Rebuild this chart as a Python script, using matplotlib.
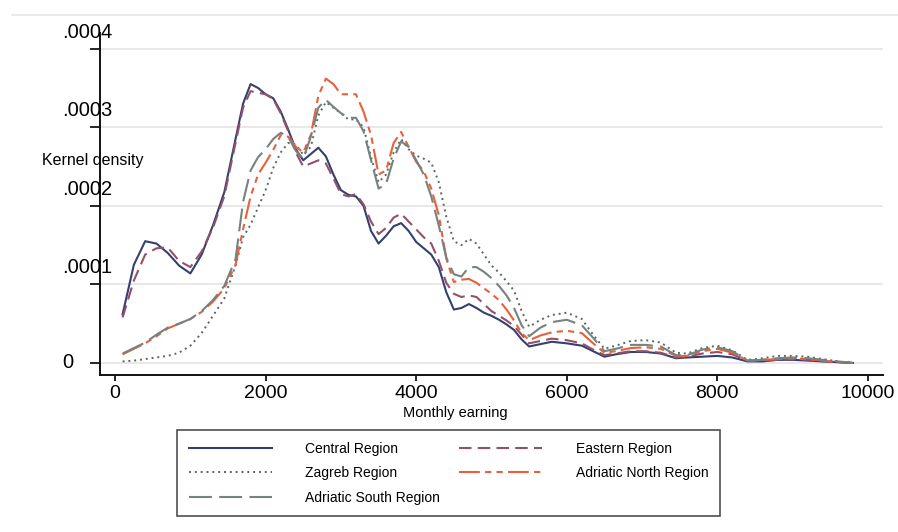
import numpy as np
import matplotlib
matplotlib.use('Agg')
import matplotlib.pyplot as plt
import matplotlib.transforms as mtransforms
from matplotlib.lines import Line2D

plt.rcParams['font.family'] = ['Liberation Sans', 'DejaVu Sans']

# --- data (density in units of 1e-4) ---
earning = [100, 250, 400, 550, 700, 850, 1000, 1150, 1300, 1450, 1600, 1700, 1800, 1900,
           2000, 2100, 2200, 2300, 2400, 2500, 2600, 2700, 2800, 2900, 3000, 3100, 3200,
           3300, 3400, 3500, 3600, 3700, 3800, 3900, 4000, 4100, 4200, 4300, 4400, 4500,
           4600, 4700, 4800, 4900, 5000, 5100, 5200, 5300, 5400, 5500, 5650, 5800, 6000,
           6200, 6350, 6500, 6650, 6850, 7050, 7250, 7450, 7600, 7800, 8000, 8200, 8400,
           8600, 8800, 9000, 9200, 9400, 9600, 9800]

central = [0.62, 1.25, 1.55, 1.52, 1.40, 1.24, 1.14, 1.38, 1.75, 2.17, 2.85, 3.30, 3.55, 3.50,
           3.42, 3.37, 3.20, 2.97, 2.72, 2.58, 2.66, 2.74, 2.63, 2.40, 2.20, 2.14, 2.12,
           2.00, 1.68, 1.52, 1.62, 1.74, 1.78, 1.68, 1.54, 1.46, 1.38, 1.22, 0.90, 0.68,
           0.70, 0.75, 0.70, 0.64, 0.60, 0.55, 0.49, 0.42, 0.30, 0.21, 0.24, 0.27, 0.25,
           0.22, 0.15, 0.08, 0.11, 0.14, 0.14, 0.12, 0.06, 0.07, 0.08, 0.09, 0.07, 0.02,
           0.02, 0.04, 0.04, 0.03, 0.02, 0.01, 0.0]

eastern = [0.58, 1.05, 1.38, 1.46, 1.47, 1.30, 1.22, 1.42, 1.72, 2.12, 2.80, 3.25, 3.46, 3.44,
           3.42, 3.36, 3.18, 2.95, 2.68, 2.50, 2.54, 2.58, 2.54, 2.35, 2.15, 2.12, 2.15,
           2.02, 1.80, 1.64, 1.72, 1.85, 1.90, 1.80, 1.70, 1.60, 1.52, 1.30, 1.02, 0.88,
           0.84, 0.86, 0.84, 0.75, 0.66, 0.60, 0.54, 0.47, 0.36, 0.25, 0.28, 0.31, 0.29,
           0.25, 0.17, 0.10, 0.12, 0.15, 0.15, 0.13, 0.07, 0.08, 0.12, 0.14, 0.11, 0.03,
           0.03, 0.04, 0.05, 0.04, 0.02, 0.01, 0.0]

zagreb = [0.02, 0.03, 0.05, 0.07, 0.09, 0.13, 0.22, 0.38, 0.60, 0.82, 1.24, 1.60, 1.76, 1.98,
          2.20, 2.48, 2.68, 2.80, 2.78, 2.65, 2.75, 3.15, 3.32, 3.25, 3.18, 3.10, 3.10,
          3.00, 2.62, 2.30, 2.40, 2.68, 2.85, 2.72, 2.64, 2.60, 2.55, 2.30, 1.86, 1.55,
          1.50, 1.58, 1.52, 1.38, 1.24, 1.15, 1.04, 0.92, 0.66, 0.46, 0.55, 0.61, 0.64,
          0.56, 0.36, 0.18, 0.22, 0.28, 0.29, 0.26, 0.13, 0.12, 0.19, 0.22, 0.16, 0.04,
          0.06, 0.09, 0.09, 0.08, 0.05, 0.02, 0.0]

adriatic_north = [0.11, 0.18, 0.25, 0.34, 0.44, 0.50, 0.56, 0.65, 0.78, 0.95, 1.25, 1.70, 2.12, 2.40,
                  2.55, 2.71, 2.90, 2.88, 2.75, 2.68, 2.90, 3.40, 3.62, 3.55, 3.42, 3.42, 3.42,
                  3.20, 2.90, 2.40, 2.45, 2.80, 2.94, 2.75, 2.56, 2.44, 2.22, 1.88, 1.33, 1.03,
                  1.06, 1.07, 1.02, 0.95, 0.88, 0.80, 0.68, 0.54, 0.38, 0.29, 0.35, 0.39, 0.41,
                  0.38, 0.25, 0.13, 0.15, 0.19, 0.20, 0.18, 0.09, 0.09, 0.15, 0.18, 0.13, 0.03,
                  0.04, 0.05, 0.06, 0.05, 0.03, 0.01, 0.0]

adriatic_south = [0.12, 0.19, 0.26, 0.36, 0.45, 0.50, 0.56, 0.66, 0.80, 0.98, 1.32, 2.05, 2.45, 2.62,
                  2.72, 2.85, 2.93, 2.88, 2.70, 2.60, 2.88, 3.25, 3.35, 3.26, 3.18, 3.12, 3.12,
                  2.95, 2.58, 2.22, 2.28, 2.60, 2.82, 2.75, 2.58, 2.40, 2.12, 1.75, 1.34, 1.13,
                  1.10, 1.22, 1.22, 1.16, 1.08, 0.98, 0.86, 0.70, 0.48, 0.34, 0.45, 0.52, 0.55,
                  0.48, 0.32, 0.15, 0.18, 0.23, 0.23, 0.21, 0.10, 0.10, 0.17, 0.20, 0.15, 0.03,
                  0.04, 0.06, 0.07, 0.06, 0.04, 0.02, 0.0]

x_ticks = [0, 2000, 4000, 6000, 8000, 10000]
y_ticks = [0, 0.0001, 0.0002, 0.0003, 0.0004]
y_ticklabels = ['0', '.0001', '.0002', '.0003', '.0004']

series = [
    ('Central Region', central, dict(color='#34406e', ls='-', lw=1.5)),
    ('Eastern Region', eastern, dict(color='#94506a', ls=(0, (6, 3)), lw=1.5)),
    ('Zagreb Region', zagreb, dict(color='#55685e', ls=(0, (1, 2)), lw=1.4)),
    ('Adriatic North Region', adriatic_north, dict(color='#e8603c', ls=(0, (10, 2.5, 3, 2.5, 3, 2.5)), lw=1.5)),
    ('Adriatic South Region', adriatic_south, dict(color='#76827e', ls=(0, (11, 3.5)), lw=1.5)),
]

W, H = 898, 532
fig = plt.figure(figsize=(W / 100, H / 100), dpi=100)
ax = fig.add_axes([100 / W, 1 - 375 / H, 783 / W, 342 / H])

x = np.array(earning)
lines = {}
for name, vals, style in series:
    (ln,) = ax.plot(x, np.array(vals) * 1e-4, label=name, **style)
    lines[name] = ln

ax.set_xlim(-200, 10200)
ax.set_ylim(-0.0000153, 0.00042)

# grid, spines, ticks
for yt in y_ticks:
    ax.axhline(yt, color='#e4e4e4', lw=1.2, zorder=0)
for s in ['top', 'right']:
    ax.spines[s].set_visible(False)
for s in ['left', 'bottom']:
    ax.spines[s].set_linewidth(1.4)
    ax.spines[s].set_color('#111111')

ax.set_xticks(x_ticks)
ax.set_xticklabels([str(v) for v in x_ticks], fontsize=14)
ax.tick_params(axis='x', length=4, width=1.2, pad=3)
ax.set_yticks(y_ticks)
ax.set_yticklabels([''] * len(y_ticks))
ax.tick_params(axis='y', length=7, width=1.2)

# y tick labels sit left-aligned, a little above their ticks
trans = mtransforms.blended_transform_factory(fig.transFigure, ax.transData)
for yt, lab in zip(y_ticks, y_ticklabels):
    dy = 0 if yt == 0 else 12
    t = mtransforms.offset_copy(trans, fig=fig, y=dy, units='points')
    ax.text(62 / W, yt, lab, transform=t, ha='left', va='center', fontsize=14.5, clip_on=False)

ax.set_ylabel('Kernel density', fontsize=11.5, rotation=0, ha='left', va='center')
ax.yaxis.set_label_coords(-58 / 783, (375 - 160) / 342)
ax.set_xlabel('Monthly earning', fontsize=10.5, va='center')
ax.xaxis.set_label_coords((455 - 100) / 783, (375 - 413) / 342)

# faint outer border line at top
fig.add_artist(Line2D([12 / W, 1], [1 - 15 / H, 1 - 15 / H], transform=fig.transFigure,
                      color='#e6e6e6', lw=1.2))

order = ['Central Region', 'Zagreb Region', 'Adriatic South Region',
         'Eastern Region', 'Adriatic North Region']
leg = fig.legend([lines[n] for n in order], order, ncol=2, loc='upper left',
                 bbox_to_anchor=(177 / W, 1 - 522 / H, 543 / W, 92 / H), mode='expand',
                 borderaxespad=0, fontsize=10, handlelength=6, handletextpad=2.4,
                 labelspacing=0.75, borderpad=0.85, fancybox=False, frameon=True)
leg.get_frame().set_edgecolor('#222222')
leg.get_frame().set_linewidth(1.2)

fig.savefig('out.png', dpi=100)
